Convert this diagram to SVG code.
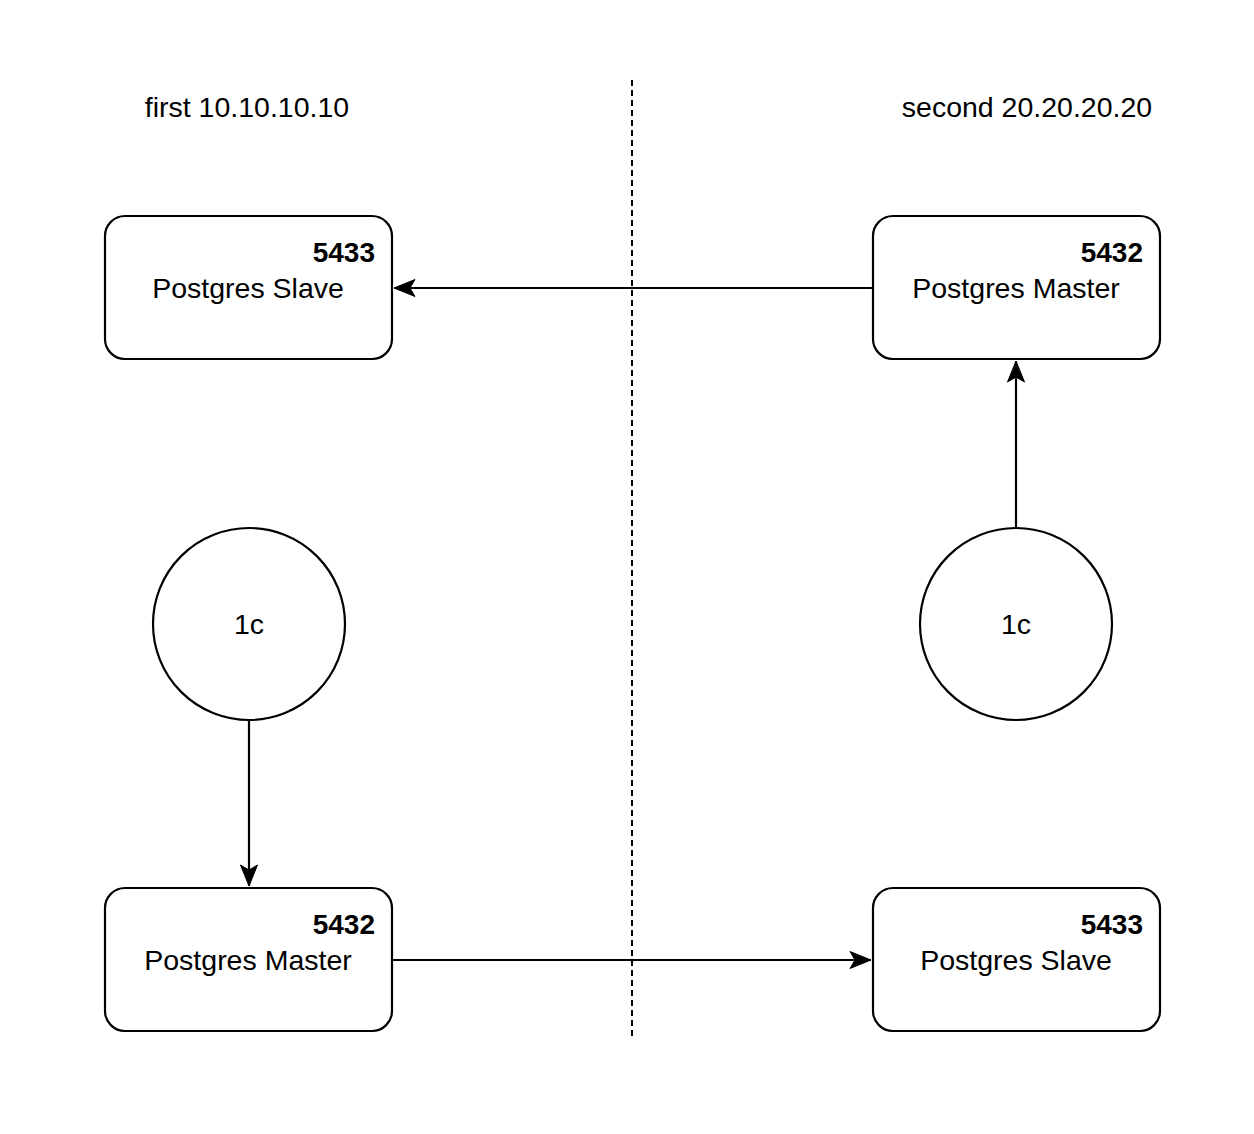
<svg xmlns="http://www.w3.org/2000/svg" width="1254" height="1134" viewBox="0 0 1254 1134">
<defs>
<style>
.box{fill:#fff;stroke:#000;stroke-width:2.2}
.t{font-family:"Liberation Sans",Arial,Helvetica,sans-serif;font-size:28.5px;fill:#000}
.b{font-weight:bold;text-anchor:end;font-size:28px}
.c{text-anchor:middle}
.edge{fill:none;stroke:#000;stroke-width:2.2}
</style>
<marker id="arr" markerUnits="userSpaceOnUse" markerWidth="26" markerHeight="22" viewBox="-23 -11 26 22" refX="0" refY="0" orient="auto">
<path d="M0,0 L-21,-8.5 L-16,0 L-21,8.5 Z" fill="#000" stroke="#000" stroke-width="1"/>
</marker>
</defs>
<rect width="1254" height="1134" fill="#fff"/>
<g id="labels">
<text class="t c" x="247" y="117">first 10.10.10.10</text>
<text class="t c" x="1027" y="117">second 20.20.20.20</text>
</g>
<line id="divider" x1="632" y1="80" x2="632" y2="1037" stroke="#000" stroke-width="2" stroke-dasharray="6 4"/>
<g id="connectors">
<path class="edge" d="M873,288 L394,288" marker-end="url(#arr)"/>
<path class="edge" d="M1016,528 L1016,361" marker-end="url(#arr)"/>
<path class="edge" d="M249,720 L249,886" marker-end="url(#arr)"/>
<path class="edge" d="M392,960 L871,960" marker-end="url(#arr)"/>
</g>
<g id="slave-first">
<rect class="box" x="105" y="216" width="287" height="143" rx="20"/>
<text class="t b" x="375" y="262">5433</text>
<text class="t c" x="248" y="298">Postgres Slave</text>
</g>
<g id="master-second">
<rect class="box" x="873" y="216" width="287" height="143" rx="20"/>
<text class="t b" x="1143" y="262">5432</text>
<text class="t c" x="1016" y="298">Postgres Master</text>
</g>
<g id="app-first">
<circle class="box" cx="249" cy="624" r="96"/>
<text class="t c" x="249" y="634">1c</text>
</g>
<g id="app-second">
<circle class="box" cx="1016" cy="624" r="96"/>
<text class="t c" x="1016" y="634">1c</text>
</g>
<g id="master-first">
<rect class="box" x="105" y="888" width="287" height="143" rx="20"/>
<text class="t b" x="375" y="934">5432</text>
<text class="t c" x="248" y="970">Postgres Master</text>
</g>
<g id="slave-second">
<rect class="box" x="873" y="888" width="287" height="143" rx="20"/>
<text class="t b" x="1143" y="934">5433</text>
<text class="t c" x="1016" y="970">Postgres Slave</text>
</g>
</svg>
